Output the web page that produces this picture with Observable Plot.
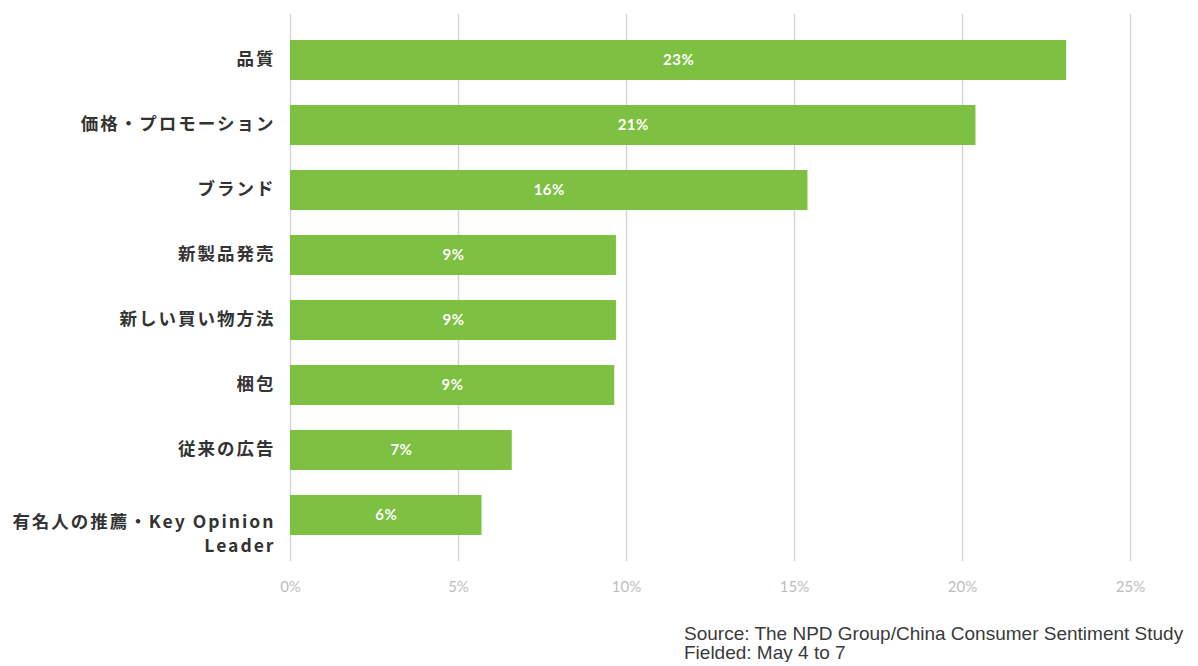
<!DOCTYPE html>
<html>
<head>
<meta charset="utf-8">
<script src="https://cdn.jsdelivr.net/npm/d3@7"></script>
<script src="https://cdn.jsdelivr.net/npm/@observablehq/plot@0.6"></script>
<style>
  html, body { margin: 0; padding: 0; background: #fff; overflow: hidden; }
  #chart { width: 1198px; height: 605px; }
  .caption { font-family: "Liberation Sans", Arial, sans-serif; font-size: 19px; color: #3a3a3a; padding-left: 684px; margin-top: 19px; line-height: 19px; white-space: nowrap; }
</style>
</head>
<body>
<div id="chart"></div>
<div class="caption">Source: The NPD Group/China Consumer Sentiment Study<br>Fielded: May 4 to 7</div>
<script>
const categories = ["品質", "価格・プロモーション", "ブランド", "新製品発売", "新しい買い物方法", "梱包", "従来の広告", "有名人の推薦・Key Opinion Leader"];
const values = [23.1, 20.4, 15.4, 9.7, 9.7, 9.65, 6.6, 5.7];
const valueLabels = ["23%", "21%", "16%", "9%", "9%", "9%", "7%", "6%"];
const xTicks = [0, 5, 10, 15, 20, 25];
const categoryLabels = ["品質", "価格・プロモーション", "ブランド", "新製品発売", "新しい買い物方法", "梱包", "従来の広告", "有名人の推薦・Key Opinion\nLeader"];

const data = categories.map((c, i) => ({category: c, value: values[i], label: valueLabels[i], tick: categoryLabels[i]}));
const labelFont = {textAnchor: "end", lineAnchor: "top", dx: -15, fontSize: 17.5, fontWeight: "bold", fill: "#333333", fontFamily: "'Noto Sans CJK JP', 'Noto Sans', sans-serif", lineHeight: 1.35};

const chart = Plot.plot({
  width: 1198,
  height: 605,
  marginLeft: 290,
  marginRight: 68,
  marginTop: 14,
  marginBottom: 44,
  x: {domain: [0, 25], ticks: xTicks, tickFormat: d => d + "%", label: null},
  y: {domain: categories, paddingInner: 0.385, paddingOuter: 0.4, axis: null, label: null},
  marks: [
    Plot.gridX(xTicks, {stroke: "#d6d6d6", strokeOpacity: 1, strokeWidth: 1.5}),
    Plot.axisX({ticks: xTicks, tickSize: 0, tickPadding: 20, fontSize: 15, fill: "#bdbdbd", fontFamily: "Lato, sans-serif", tickFormat: d => d + "%", label: null}),
    Plot.barX(data, {x: "value", y: "category", fill: "#7dc042"}),
    Plot.text(data, {x: d => d.value / 2, y: "category", text: "label", fill: "#ffffff", fontSize: 15, fontWeight: "bold", fontFamily: "Lato, sans-serif"}),
    Plot.text(data, {...labelFont, filter: d => !d.tick.includes("\n"), x: 0, y: "category", text: "tick", dy: -12}),
    Plot.text(data, {...labelFont, filter: d => d.tick.includes("\n"), x: 0, y: "category", text: "tick", dy: -4})
  ],
  style: {fontFamily: "'Noto Sans CJK JP', sans-serif", background: "#fff"}
});
const textGroups = chart.querySelectorAll('g[aria-label="text"]');
if (textGroups.length >= 3) {
  textGroups[textGroups.length - 1].style.letterSpacing = "2px";
  textGroups[textGroups.length - 2].style.letterSpacing = "2px";
  textGroups[textGroups.length - 3].style.letterSpacing = "0.5px";
}
document.getElementById("chart").appendChild(chart);
</script>
</body>
</html>
